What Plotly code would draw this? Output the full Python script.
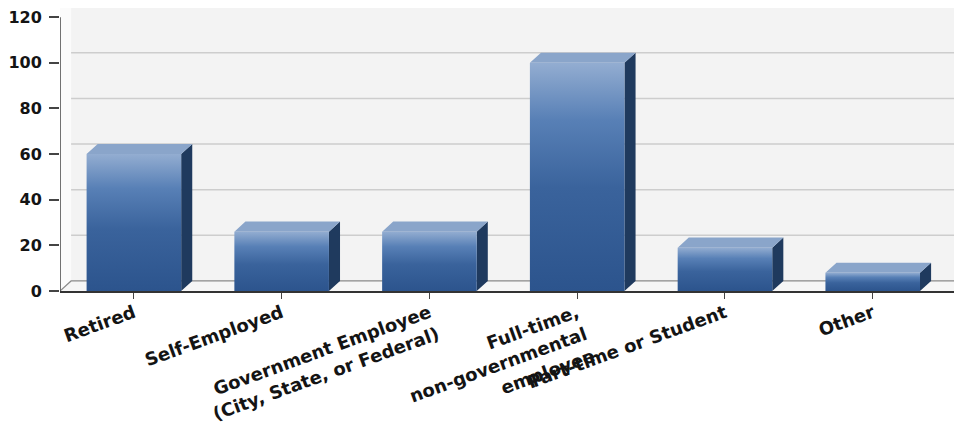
import plotly.graph_objects as go

# Survey responses by employment status
categories = [
    "Retired",
    "Self-Employed",
    "Government Employee<br>(City, State, or Federal)",
    "Full-time,<br>non-governmental<br>employee",
    "Part-time or Student",
    "Other",
]
counts = [60, 26, 26, 100, 19, 8]
y_tick_values = [0, 20, 40, 60, 80, 100, 120]

# Geometry of the pseudo-3D bars, in axis units
BAR_HALF = 0.32
DEPTH_X = 0.075
DEPTH_Y = 4.4
X_MIN, X_MAX = -0.5, 5.55
Y_MAX = 124

FRONT_SCALE = [
    [0.0, "#2c548d"],
    [0.45, "#3a639c"],
    [0.75, "#5880b6"],
    [1.0, "#93add1"],
]

fig = go.Figure()

# Side and top faces (one trace each, polygons separated by gaps)
side_x, side_y, top_x, top_y = [], [], [], []
for i, v in enumerate(counts):
    left, right = i - BAR_HALF, i + BAR_HALF
    side_x += [right, right + DEPTH_X, right + DEPTH_X, right, right, None]
    side_y += [0, DEPTH_Y, v + DEPTH_Y, v, 0, None]
    top_x += [left, right, right + DEPTH_X, left + DEPTH_X, left, None]
    top_y += [v, v, v + DEPTH_Y, v + DEPTH_Y, v, None]

fig.add_trace(go.Scatter(
    x=side_x, y=side_y, mode="lines", fill="toself",
    fillcolor="#1f3a5e", line=dict(width=0),
    hoverinfo="skip", showlegend=False,
))
fig.add_trace(go.Scatter(
    x=top_x, y=top_y, mode="lines", fill="toself",
    fillcolor="#8aa5ca", line=dict(width=0),
    hoverinfo="skip", showlegend=False,
))

# Front faces with a vertical gradient
for i, (cat, v) in enumerate(zip(categories, counts)):
    left, right = i - BAR_HALF, i + BAR_HALF
    fig.add_trace(go.Scatter(
        x=[left, right, right, left, left],
        y=[0, 0, v, v, 0],
        mode="lines", fill="toself",
        fillgradient=dict(type="vertical", colorscale=FRONT_SCALE, start=0, stop=v),
        line=dict(width=0),
        hoveron="fills",
        text=f"{cat.replace('<br>', ' ')}: {v}",
        hoverinfo="text",
        showlegend=False,
    ))

shapes = []
# Back wall
shapes.append(dict(type="rect", xref="x", yref="y",
                   x0=X_MIN + DEPTH_X, x1=X_MAX, y0=DEPTH_Y, y1=Y_MAX,
                   fillcolor="#f3f3f3", line=dict(width=0), layer="below"))
# Left wall
shapes.append(dict(type="path", xref="x", yref="y",
                   path=f"M {X_MIN},0 L {X_MIN + DEPTH_X},{DEPTH_Y} L {X_MIN + DEPTH_X},{Y_MAX} "
                        f"L {X_MIN},{Y_MAX} Z",
                   fillcolor="#fbfbfb", line=dict(width=0), layer="below"))
# Floor
shapes.append(dict(type="path", xref="x", yref="y",
                   path=f"M {X_MIN},0 L {X_MAX},0 L {X_MAX},{DEPTH_Y} L {X_MIN + DEPTH_X},{DEPTH_Y} Z",
                   fillcolor="#f6f6f6", line=dict(width=0), layer="below"))
shapes.append(dict(type="path", xref="x", yref="y",
                   path=f"M {X_MIN},0 L {X_MIN + DEPTH_X},{DEPTH_Y} L {X_MAX},{DEPTH_Y}",
                   line=dict(color="#8a8a8a", width=1.2), layer="below"))
# Grid lines on the back wall
for t in y_tick_values[1:-1]:
    shapes.append(dict(type="line", xref="x", yref="y",
                       x0=X_MIN + DEPTH_X, x1=X_MAX, y0=t + DEPTH_Y, y1=t + DEPTH_Y,
                       line=dict(color="#cdcdcd", width=1.5), layer="below"))
# Value axis line
shapes.append(dict(type="line", xref="x", yref="y",
                   x0=X_MIN, x1=X_MIN, y0=0, y1=y_tick_values[-1],
                   line=dict(color="#444444", width=1.5)))

fig.update_layout(
    width=954, height=439,
    margin=dict(l=60, r=0, t=8, b=148),
    paper_bgcolor="white", plot_bgcolor="white",
    shapes=shapes,
    showlegend=False,
    xaxis=dict(
        range=[X_MIN, X_MAX],
        tickmode="array", tickvals=list(range(len(categories))), ticktext=categories,
        tickangle=-20,
        ticks="outside", ticklen=6, tickcolor="#444444", tickwidth=1,
        ticklabelstandoff=-3,
        showline=True, linecolor="#333333", linewidth=1.5,
        showgrid=False, zeroline=False,
        tickfont=dict(family="DejaVu Sans", size=18, color="#141414", weight="bold"),
    ),
    yaxis=dict(
        range=[0, Y_MAX],
        tickmode="array", tickvals=y_tick_values,
        ticks="outside", ticklen=10, tickcolor="#444444", tickwidth=1.5,
        ticklabelstandoff=4,
        showline=False, showgrid=False, zeroline=False,
        tickfont=dict(family="DejaVu Sans", size=16, color="#141414", weight="bold"),
    ),
)

fig.write_html("out.html")
